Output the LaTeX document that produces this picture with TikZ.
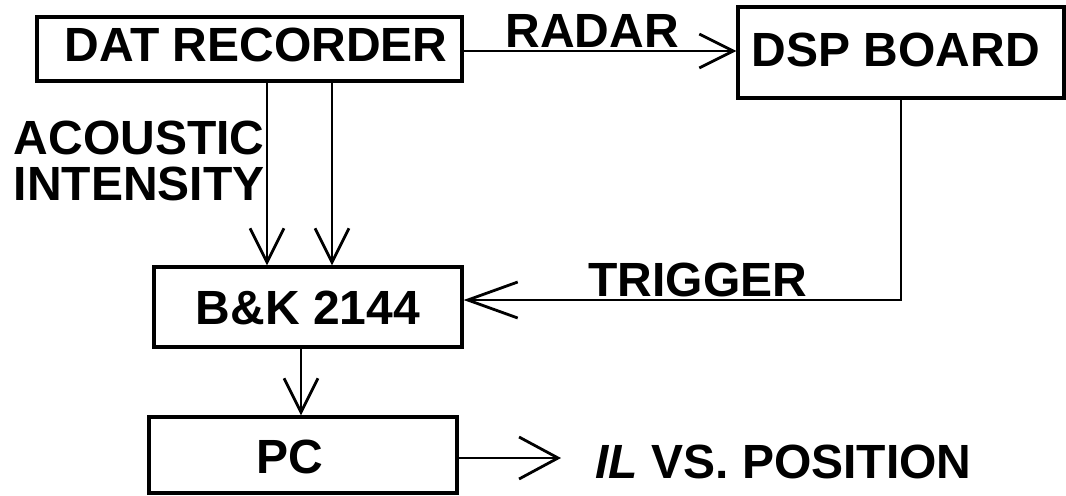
\documentclass[tikz,border=0pt]{standalone}
\usepackage{fontspec}
\setmainfont{Liberation Sans}
\usetikzlibrary{arrows.meta}
\begin{document}
\begin{tikzpicture}[x=0.5pt,y=-0.5pt,
  every node/.style={font=\fontsize{24}{23}\selectfont\bfseries, inner sep=0pt},
  blk/.style={draw, line width=1.6pt, rectangle, text depth=0pt},
  conn/.style={line width=1.4pt},
  arr/.style={conn, -{Straight Barb[length=17pt,width=17pt]}},
  lbl/.style={anchor=base west}]
\useasboundingbox (0,0) rectangle (1066,495);
% blocks
\node[blk, minimum width=212.5pt, minimum height=32pt, text height=12.5pt] (dat) at (249.5,49) {\hspace*{6.5pt}DAT RECORDER};
\node[blk, minimum width=163pt, minimum height=45.5pt, text height=14pt] (dsp) at (901,52.5) {\hspace*{-5pt}DSP BOARD};
\node[blk, minimum width=154pt, minimum height=40pt, text height=17pt] (bk) at (308,307) {B\&K 2144};
\node[blk, minimum width=154pt, minimum height=38pt, text height=18.5pt] (pc) at (303,455) {\hspace*{-13pt}PC};
% labels
\node[lbl] (radar) at (505,47) {RADAR};
\node[lbl] (trig) at (588,296) {TRIGGER};
\node[anchor=north east, align=right] (ai) at (265,121) {ACOUSTIC\\INTENSITY};
\node[anchor=base west, inner xsep=17pt, inner ysep=0pt] (il) at (561,478) {\textit{IL} VS. POSITION};
% helper coordinates
\coordinate (c1) at (267,0);
\coordinate (c2) at (332,0);
\coordinate (c3) at (301,0);
% connectors
\draw[arr] ([yshift=-1pt]dat.east) -- ([yshift=-1pt]dat.east -| dsp.west);
\draw[arr] (dat.south -| c1) -- (bk.north -| c1);
\draw[arr] (dat.south -| c2) -- (bk.north -| c2);
\draw[conn, -{Straight Barb[length=25pt,width=18pt]}] (dsp.south) |- ([yshift=3.5pt]bk.east);
\draw[arr] (bk.south -| c3) -- (pc.north -| c3);
\draw[conn, -{Straight Barb[length=19.5pt,width=21pt]}] ([yshift=-1.5pt]pc.east) -- ([yshift=-1.5pt]pc.east -| il.west);
\end{tikzpicture}
\end{document}
